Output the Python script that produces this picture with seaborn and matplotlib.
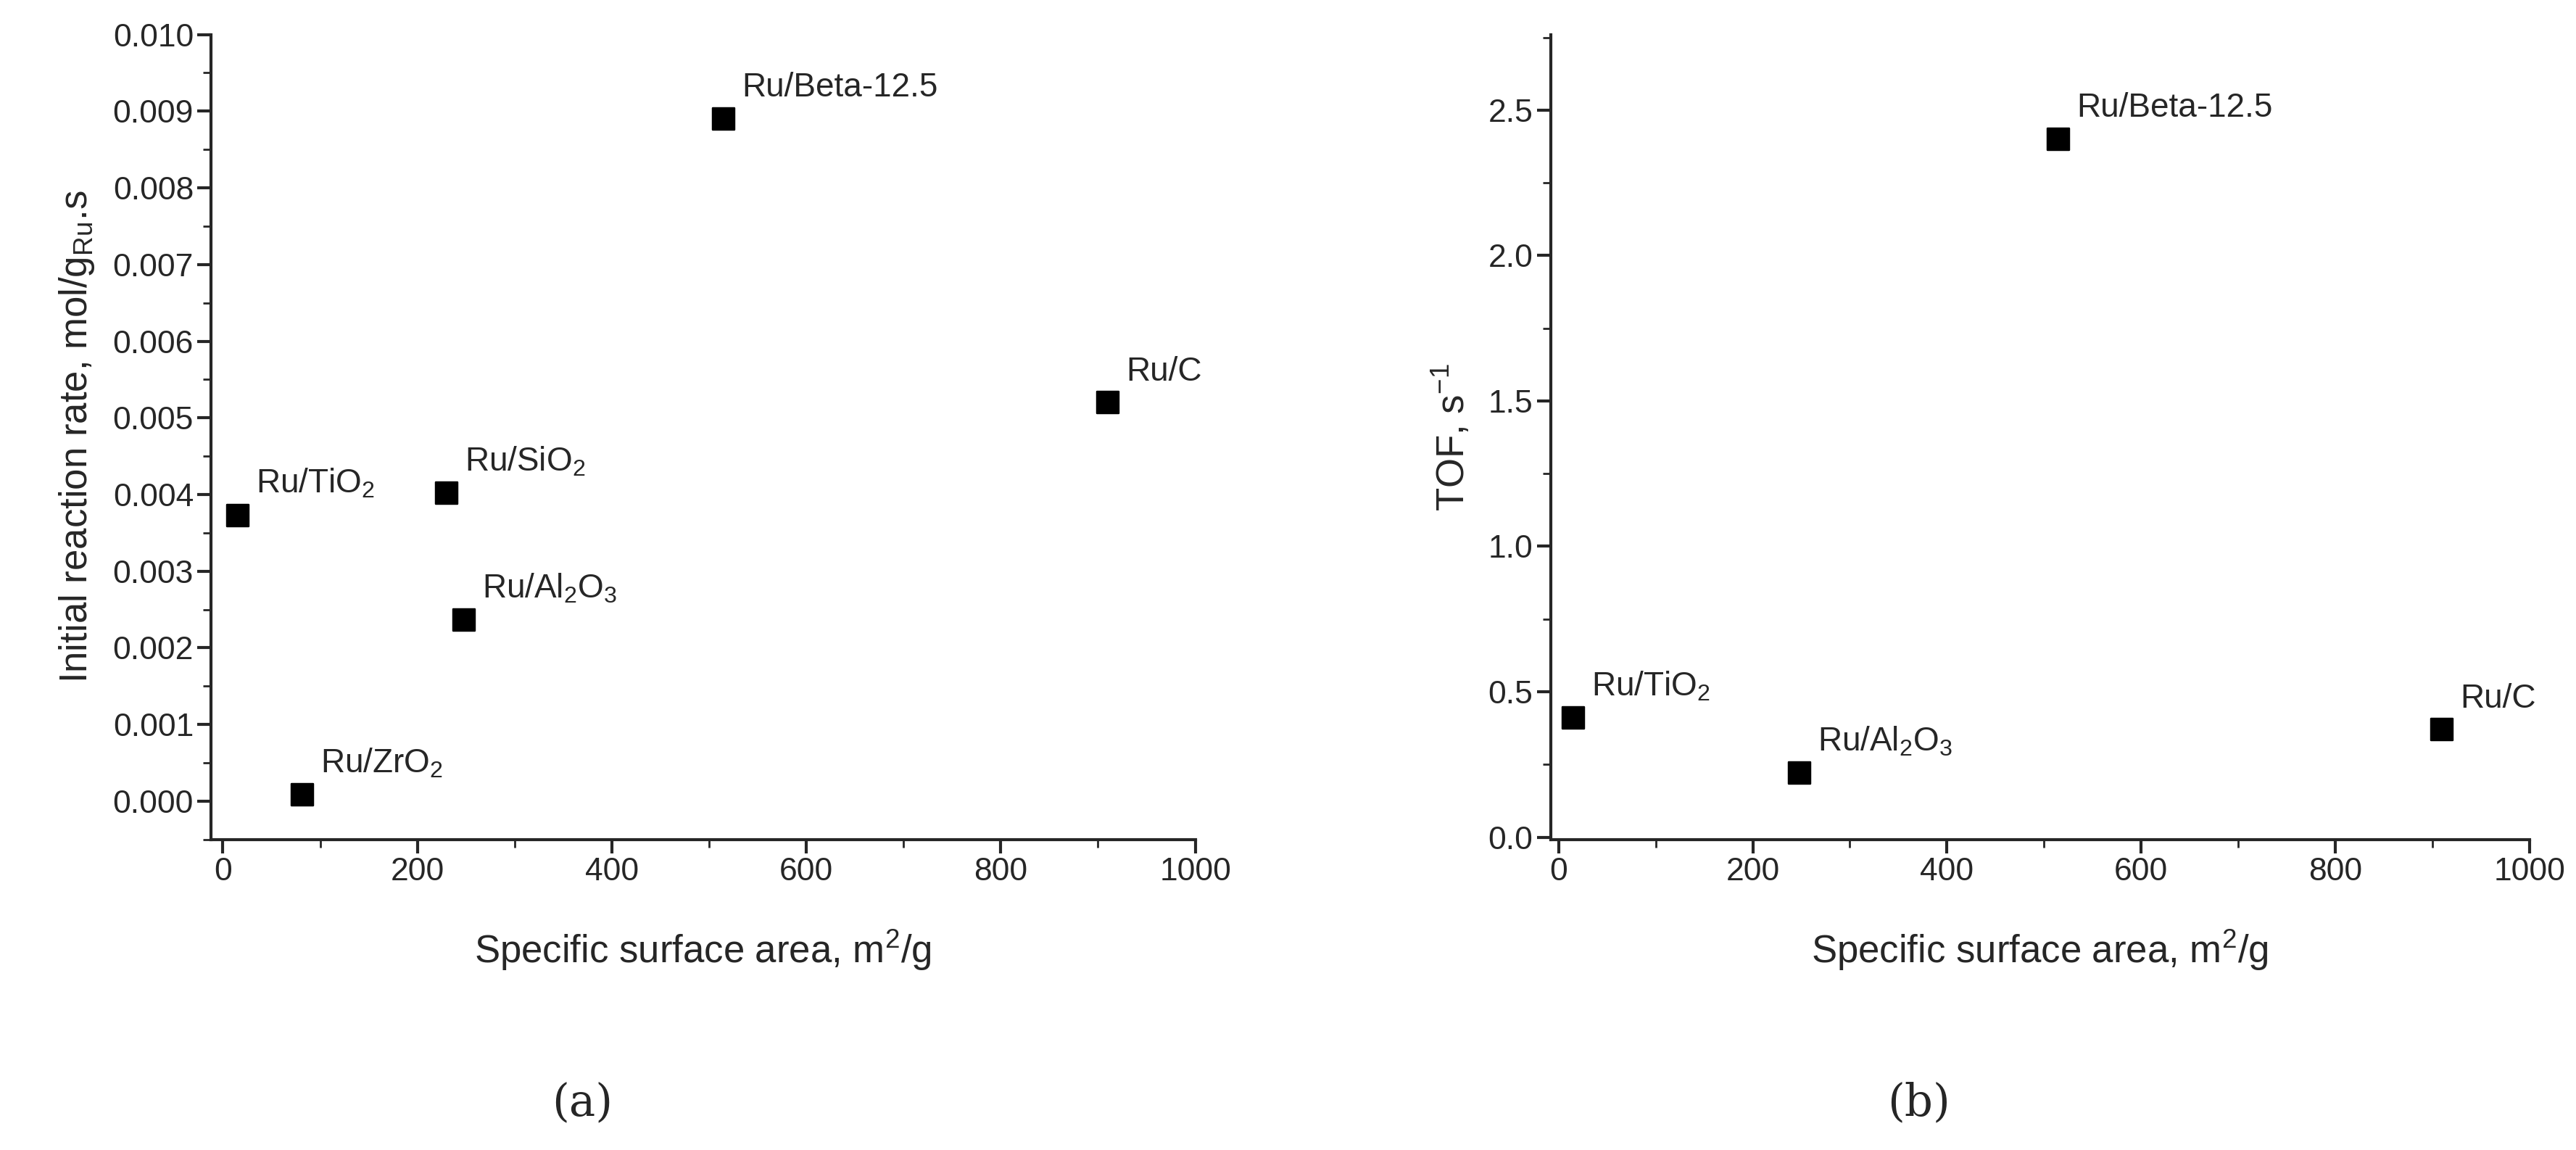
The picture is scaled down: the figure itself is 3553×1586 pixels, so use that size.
import matplotlib
matplotlib.use("Agg")
import matplotlib.pyplot as plt
import seaborn as sns
import pandas as pd
from matplotlib.ticker import MultipleLocator

# panel (a): initial reaction rate
names_a = ["Ru/TiO$_2$", "Ru/ZrO$_2$", "Ru/SiO$_2$", "Ru/Al$_2$O$_3$", "Ru/Beta-12.5", "Ru/C"]
area_a = [15, 82, 230, 248, 515, 910]
rate_a = [0.00373, 0.00008, 0.00402, 0.00236, 0.0089, 0.0052]

# panel (b): TOF
names_b = ["Ru/TiO$_2$", "Ru/Al$_2$O$_3$", "Ru/Beta-12.5", "Ru/C"]
area_b = [15, 248, 515, 910]
tof_b = [0.41, 0.22, 2.40, 0.37]

sns.set_style("ticks")
plt.rcParams["font.family"] = ["Liberation Sans", "DejaVu Sans"]
plt.rcParams["mathtext.fontset"] = "custom"
plt.rcParams["mathtext.rm"] = "Liberation Sans"

fig = plt.figure(figsize=(35.53, 15.86), dpi=100)
ax1 = fig.add_axes([0.082, 0.270, 0.382, 0.700])
ax2 = fig.add_axes([0.602, 0.270, 0.380, 0.700])

df_a = pd.DataFrame({"x": area_a, "y": rate_a})
df_b = pd.DataFrame({"x": area_b, "y": tof_b})
sns.scatterplot(data=df_a, x="x", y="y", ax=ax1, marker="s", s=480, color="black", edgecolor="black")
sns.scatterplot(data=df_b, x="x", y="y", ax=ax2, marker="s", s=480, color="black", edgecolor="black")

for ax, names, xs, ys in [(ax1, names_a, area_a, rate_a), (ax2, names_b, area_b, tof_b)]:
    for n, x, y in zip(names, xs, ys):
        ax.annotate(n, (x, y), xytext=(18, 22), textcoords="offset points", fontsize=33)
    sns.despine(ax=ax)
    for s in ["left", "bottom"]:
        ax.spines[s].set_linewidth(3)
    ax.xaxis.set_major_locator(MultipleLocator(200))
    ax.xaxis.set_minor_locator(MultipleLocator(100))
    ax.tick_params(which="major", length=14, width=3, labelsize=32, direction="out")
    ax.tick_params(which="minor", length=8, width=2, direction="out")
    ax.set_xlabel("Specific surface area, m$^2$/g", fontsize=38, labelpad=40)

ax1.set_xlim(-12, 1000)
ax1.set_ylim(-0.0005, 0.010)
ax1.yaxis.set_major_locator(MultipleLocator(0.001))
ax1.yaxis.set_minor_locator(MultipleLocator(0.0005))
ax1.yaxis.set_major_formatter(matplotlib.ticker.FormatStrFormatter("%.3f"))
ax1.set_ylabel("Initial reaction rate, mol/g$_{\\mathrm{Ru}}$.s", fontsize=38, labelpad=16)

ax2.set_xlim(-8, 1000)
ax2.set_ylim(-0.008, 2.76)
ax2.yaxis.set_major_locator(MultipleLocator(0.5))
ax2.yaxis.set_minor_locator(MultipleLocator(0.25))
ax2.yaxis.set_major_formatter(matplotlib.ticker.FormatStrFormatter("%.1f"))
ax2.set_ylabel("TOF, s$^{-1}$", fontsize=38, labelpad=16)

fig.text(0.226, 0.030, "(a)", fontsize=44, family="DejaVu Serif", ha="center")
fig.text(0.745, 0.030, "(b)", fontsize=44, family="DejaVu Serif", ha="center")

fig.savefig("out.png", dpi=100)
